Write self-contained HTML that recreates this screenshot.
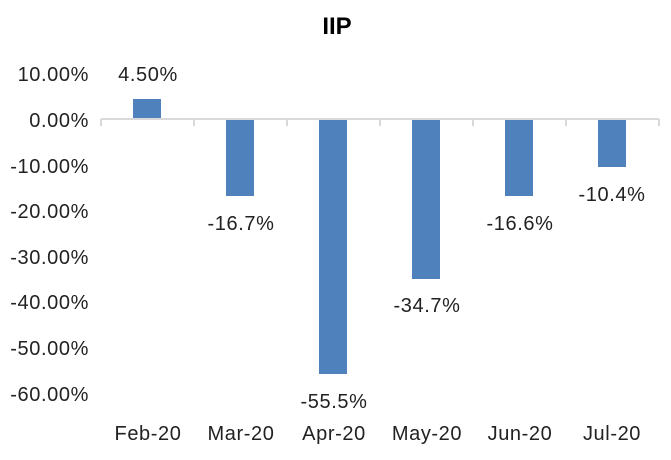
<!DOCTYPE html>
<html><head><style>body{margin:0;background:#fff}</style></head><body>
<svg width="671" height="455" xmlns="http://www.w3.org/2000/svg" font-family="Liberation Sans, DejaVu Sans, sans-serif" fill="#222">
<text x="337" y="34" text-anchor="middle" font-size="24" font-weight="bold" fill="#000">IIP</text>
<g font-size="20" text-anchor="end" letter-spacing="0.6">
<text x="89" y="81">10.00%</text>
<text x="89" y="127">0.00%</text>
<text x="89" y="173">-10.00%</text>
<text x="89" y="218">-20.00%</text>
<text x="89" y="264">-30.00%</text>
<text x="89" y="309">-40.00%</text>
<text x="89" y="355">-50.00%</text>
<text x="89" y="401">-60.00%</text>
</g>
<g fill="#4f81bd">
<rect x="133" y="99" width="28" height="20"/>
<rect x="226" y="119" width="28" height="77"/>
<rect x="319" y="119" width="28" height="255"/>
<rect x="412" y="119" width="28" height="160"/>
<rect x="505" y="119" width="28" height="77"/>
<rect x="598" y="119" width="28" height="48"/>
</g>
<g stroke="#d9d9d9" stroke-width="2">
<line x1="101" y1="119" x2="659" y2="119"/>
<line x1="101" y1="119" x2="101" y2="126"/>
<line x1="194" y1="119" x2="194" y2="126"/>
<line x1="287" y1="119" x2="287" y2="126"/>
<line x1="380" y1="119" x2="380" y2="126"/>
<line x1="473" y1="119" x2="473" y2="126"/>
<line x1="566" y1="119" x2="566" y2="126"/>
<line x1="659" y1="119" x2="659" y2="126"/>
</g>
<g font-size="20" text-anchor="middle" letter-spacing="0.6">
<text x="148" y="81">4.50%</text>
<text x="241" y="230">-16.7%</text>
<text x="334" y="408">-55.5%</text>
<text x="427" y="312">-34.7%</text>
<text x="520" y="230">-16.6%</text>
<text x="612" y="201">-10.4%</text>
<text x="148" y="440">Feb-20</text>
<text x="241" y="440">Mar-20</text>
<text x="334" y="440">Apr-20</text>
<text x="427" y="440">May-20</text>
<text x="520" y="440">Jun-20</text>
<text x="612" y="440">Jul-20</text>
</g>
</svg>
</body></html>
